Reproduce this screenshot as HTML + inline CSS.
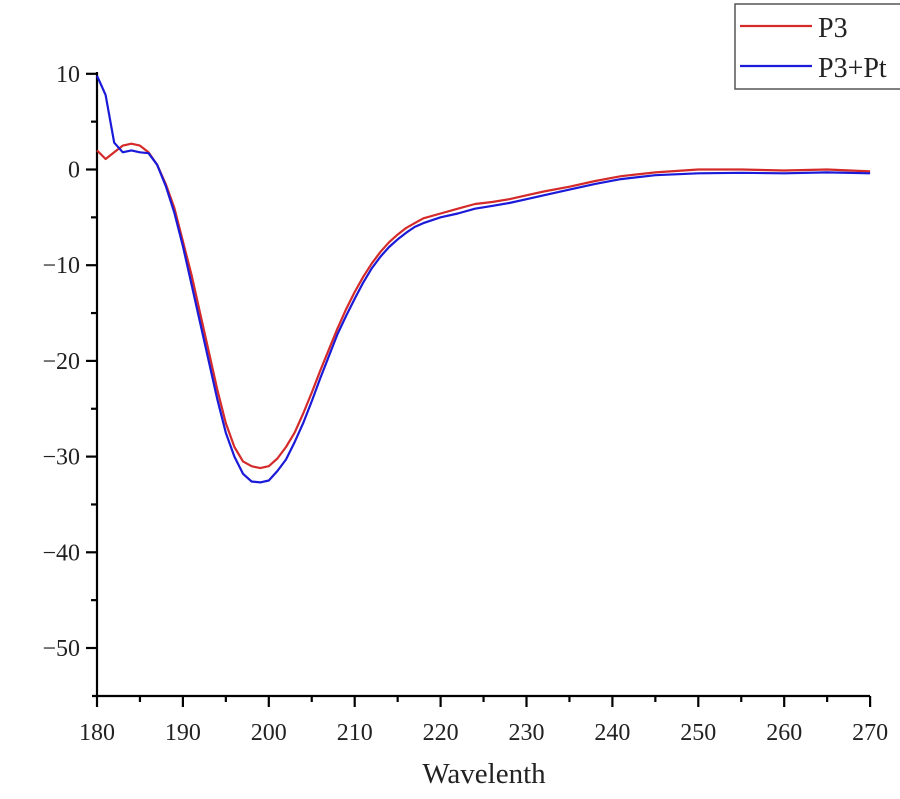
<!DOCTYPE html>
<html><head><meta charset="utf-8"><style>body{margin:0;background:#fff}svg{display:block}</style></head>
<body>
<svg id="s" width="900" height="799" xmlns="http://www.w3.org/2000/svg" font-family="Liberation Serif, serif">
<rect width="900" height="799" fill="#fff"/>
<g id="ax" stroke="#000" stroke-width="2.2" fill="none">
<line x1="97" y1="72" x2="97" y2="697"/>
<line x1="92" y1="696" x2="870" y2="696"/>
</g>
<g id="lab" font-size="24" fill="#222"></g>
<text x="484" y="783" font-size="29" text-anchor="middle" fill="#222">Wavelenth</text>
<polyline id="r" fill="none" stroke="#d42a2a" stroke-width="2.2" stroke-linejoin="round"/>
<polyline id="b" fill="none" stroke="#1a1ad8" stroke-width="2.2" stroke-linejoin="round"/>
<rect x="735" y="4" width="170" height="85" fill="#fff" stroke="#555" stroke-width="1.5"/>
<line x1="740" y1="26" x2="812" y2="26" stroke="#d42a2a" stroke-width="2.2"/>
<line x1="740" y1="66" x2="812" y2="66" stroke="#1a1ad8" stroke-width="2.2"/>
<text x="818" y="37" font-size="28" fill="#222">P3</text>
<text x="818" y="77" font-size="28" fill="#222">P3+Pt</text>
</svg>
<script>
var X=function(w){return 97+(w-180)*8.59},Y=function(v){return 169.5-v*9.57};
var ax=document.getElementById('ax'),lab=document.getElementById('lab'),NS='http://www.w3.org/2000/svg';
function ln(a,b,c,d){var l=document.createElementNS(NS,'line');l.setAttribute('x1',a);l.setAttribute('y1',b);l.setAttribute('x2',c);l.setAttribute('y2',d);ax.appendChild(l);}
function tx(x,y,t,anc){var e=document.createElementNS(NS,'text');e.setAttribute('x',x);e.setAttribute('y',y);e.setAttribute('text-anchor',anc);e.textContent=t;lab.appendChild(e);}
for(var w=180;w<=270;w+=5){var x=X(w);if(w%10==0){ln(x,696,x,707);tx(x,740,w,'middle');}else ln(x,696,x,702);}
for(var v=10;v>=-50;v-=5){var y=Y(v);if(v%10==0){ln(86,y,97,y);tx(80,y+8,v<0?'\u2212'+(-v):v,'end');}else ln(91,y,97,y);}
var R=[[180,2],[181,1.1],[182,1.8],[183,2.5],[184,2.7],[185,2.5],[186,1.8],[187,0.5],[188,-1.5],[189,-4],[190,-7.5],[191,-11],[192,-15],[193,-19],[194,-23],[195,-26.5],[196,-29],[197,-30.5],[198,-31],[199,-31.2],[200,-31],[201,-30.2],[202,-29],[203,-27.5],[204,-25.5],[205,-23.3],[206,-21],[207,-18.8],[208,-16.6],[209,-14.6],[210,-12.8],[211,-11.2],[212,-9.8],[213,-8.6],[214,-7.6],[215,-6.8],[216,-6.1],[217,-5.6],[218,-5.1],[220,-4.6],[222,-4.1],[224,-3.6],[226,-3.4],[228,-3.1],[230,-2.7],[232,-2.3],[235,-1.8],[238,-1.2],[241,-0.7],[245,-0.3],[250,0],[255,0],[260,-0.1],[265,0],[270,-0.2]];
var B=[[180,9.8],[181,7.8],[182,2.8],[183,1.8],[184,2],[185,1.8],[186,1.7],[187,0.5],[188,-1.7],[189,-4.5],[190,-8],[191,-12],[192,-16],[193,-20],[194,-24],[195,-27.5],[196,-30],[197,-31.8],[198,-32.6],[199,-32.7],[200,-32.5],[201,-31.5],[202,-30.3],[203,-28.5],[204,-26.5],[205,-24.2],[206,-21.8],[207,-19.5],[208,-17.2],[209,-15.3],[210,-13.5],[211,-11.8],[212,-10.3],[213,-9.1],[214,-8.1],[215,-7.3],[216,-6.6],[217,-6],[218,-5.6],[220,-5],[222,-4.6],[224,-4.1],[226,-3.8],[228,-3.5],[230,-3.1],[232,-2.7],[235,-2.1],[238,-1.5],[241,-1],[245,-0.6],[250,-0.4],[255,-0.35],[260,-0.4],[265,-0.3],[270,-0.4]];
function pts(a){return a.map(function(p){return X(p[0]).toFixed(1)+','+Y(p[1]).toFixed(1)}).join(' ');}
document.getElementById('r').setAttribute('points',pts(R));
document.getElementById('b').setAttribute('points',pts(B));
</script>
</body></html>
